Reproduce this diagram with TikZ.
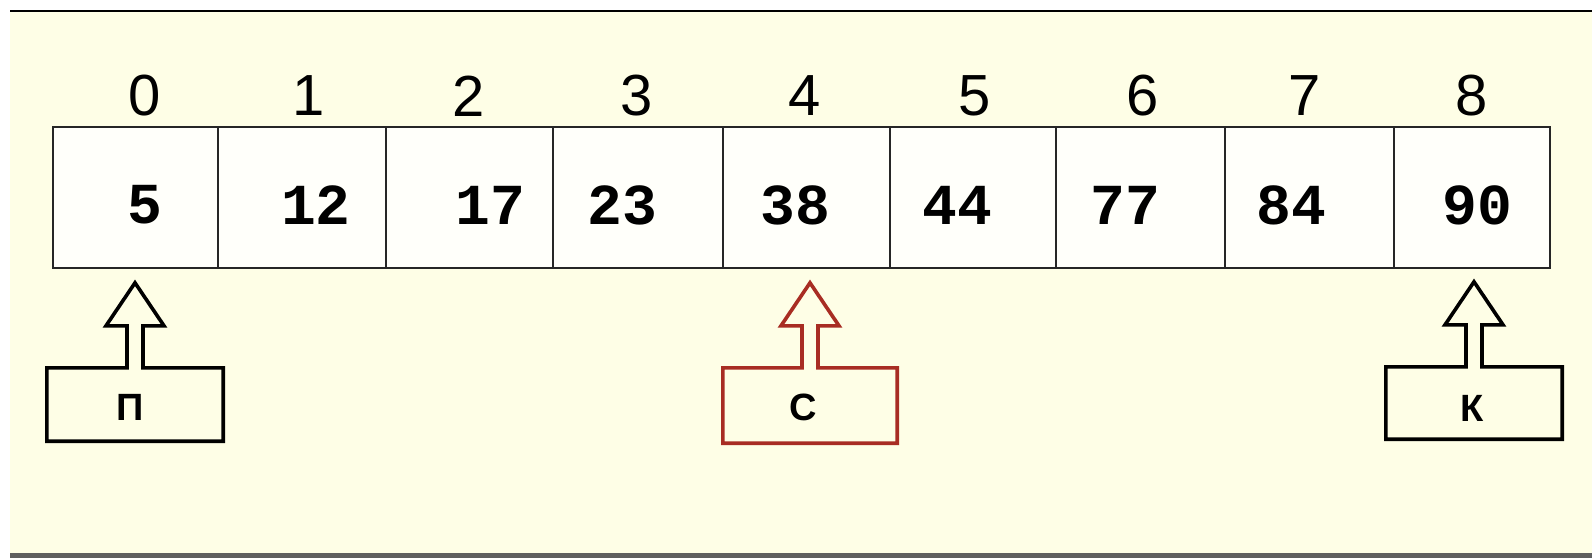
\documentclass[tikz,border=0pt]{standalone}
\usepackage{fontspec}
\setmainfont{Liberation Sans}
\newfontfamily\arialf{Liberation Sans}
\newfontfamily\monof{Liberation Mono}
\usetikzlibrary{calc}
\definecolor{bgyellow}{RGB}{254,254,230}
\definecolor{cellfill}{RGB}{255,255,250}
\definecolor{ptrred}{RGB}{168,45,35}
\definecolor{bottomgray}{RGB}{95,95,95}
\tikzset{
  cell/.style={draw=black!85, line width=1.8pt, fill=cellfill, minimum height=141pt, inner sep=0pt},
  idx/.style={font=\arialf\fontsize{58}{60}\selectfont, inner sep=0pt},
  val/.style={font=\monof\bfseries\fontsize{58}{60}\selectfont, inner sep=0pt},
  ptrbox/.style={inner sep=0pt, font=\arialf\bfseries\fontsize{38}{40}\selectfont},
  ptrline/.style={line width=3.6pt, line join=miter}
}
\newcommand\pointerarrow[2]{%
  \draw[ptrline, draw=#2] (#1.north west) -- ($(#1.north)+(-8,0)$) -- ($(#1.north)+(-8,-42)$)
    -- ($(#1.north)+(-29,-42)$) -- ($(#1.north)+(0,-85)$) -- ($(#1.north)+(29,-42)$)
    -- ($(#1.north)+(8,-42)$) -- ($(#1.north)+(8,0)$) -- (#1.north east)
    -- (#1.south east) -- (#1.south west) -- cycle;}
\begin{document}
\begin{tikzpicture}[x=1pt,y=-1pt]
\useasboundingbox (0,0) rectangle (1592,558);
\fill[white] (0,0) rectangle (1592,558);
\fill[bgyellow] (10,11) rectangle (1592,553);
\draw[line width=2pt, black] (10,11) -- (1592,11);
\draw[line width=5pt, bottomgray] (10,555) -- (1592,555);
% cells
\node[cell, minimum width=165pt] (c0) at (135.5,197.5) {};
\node[cell, minimum width=168pt] (c1) at (302,197.5) {};
\node[cell, minimum width=167pt] (c2) at (469.5,197.5) {};
\node[cell, minimum width=170pt] (c3) at (638,197.5) {};
\node[cell, minimum width=167pt] (c4) at (806.5,197.5) {};
\node[cell, minimum width=166pt] (c5) at (973,197.5) {};
\node[cell, minimum width=169pt] (c6) at (1140.5,197.5) {};
\node[cell, minimum width=169pt] (c7) at (1309.5,197.5) {};
\node[cell, minimum width=156pt] (c8) at (1472,197.5) {};
% indices
\node[idx] (i0) at (145,96) {0};
\node[idx] (i1) at (309,96) {1};
\node[idx] (i2) at (469,96) {2};
\node[idx] (i3) at (637,96) {3};
\node[idx] (i4) at (805,96) {4};
\node[idx] (i5) at (975,96) {5};
\node[idx] (i6) at (1143,96) {6};
\node[idx] (i7) at (1305,96) {7};
\node[idx] (i8) at (1472,96) {8};
% values
\node[val] (v0) at (145,205) {5};
\node[val] (v1) at (316,205) {12};
\node[val] (v2) at (490,205) {17};
\node[val] (v3) at (622,205) {23};
\node[val] (v4) at (795,205) {38};
\node[val] (v5) at (957,205) {44};
\node[val] (v6) at (1125,205) {77};
\node[val] (v7) at (1291,205) {84};
\node[val] (v8) at (1477,205) {90};
% pointers
\node[ptrbox, minimum width=176pt, minimum height=73pt] (pP) at (135,404.5) {};
\node[ptrbox] (tP) at (130,407) {П};
\pointerarrow{pP}{black}
\node[ptrbox, minimum width=174pt, minimum height=75pt] (pS) at (810,405.5) {};
\node[ptrbox] (tS) at (803,407) {С};
\pointerarrow{pS}{ptrred}
\node[ptrbox, minimum width=176pt, minimum height=72pt] (pK) at (1474,403) {};
\node[ptrbox] (tK) at (1472,408) {К};
\pointerarrow{pK}{black}
\end{tikzpicture}
\end{document}
